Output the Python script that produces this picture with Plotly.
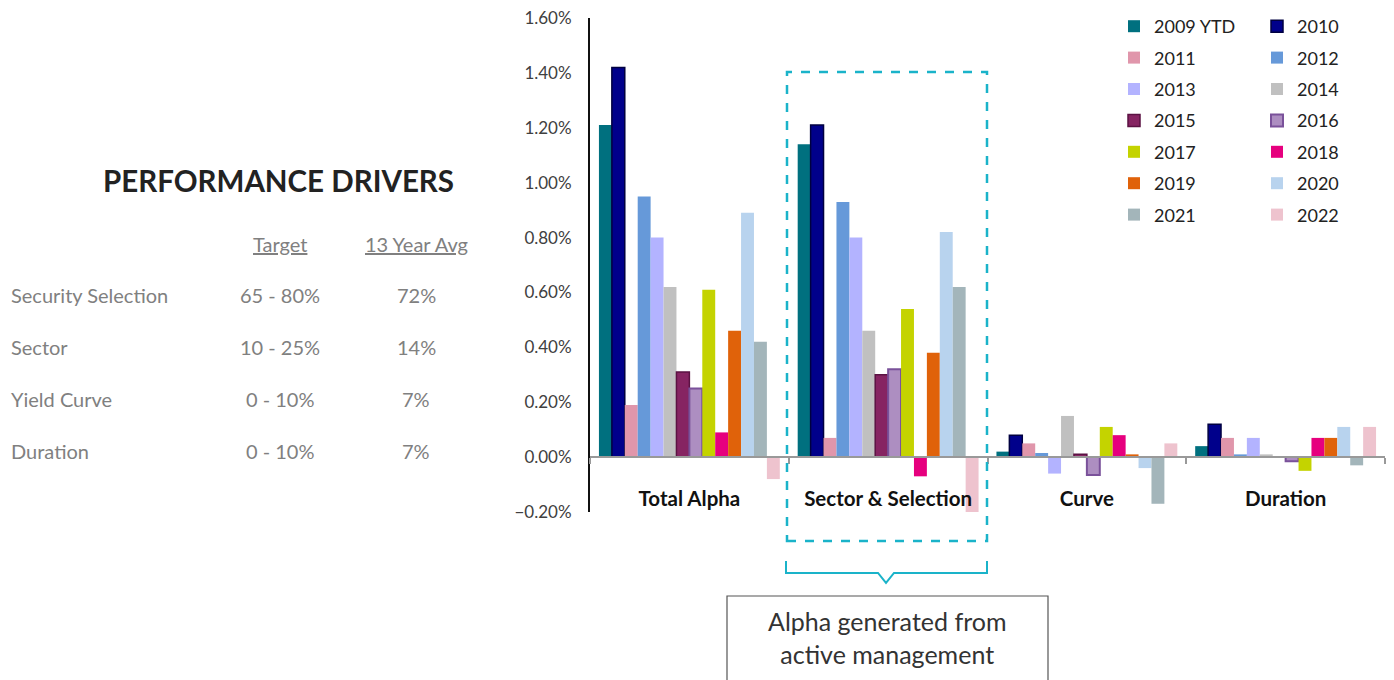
import plotly.graph_objects as go

categories = ["Total Alpha", "Sector & Selection", "Curve", "Duration"]

series_names = ["2009 YTD", "2010", "2011", "2012", "2013", "2014", "2015",
                "2016", "2017", "2018", "2019", "2020", "2021", "2022"]

v2009 = [1.21, 1.14, 0.02, 0.04]
v2010 = [1.42, 1.21, 0.08, 0.12]
v2011 = [0.19, 0.07, 0.05, 0.07]
v2012 = [0.95, 0.93, 0.015, 0.01]
v2013 = [0.80, 0.80, -0.06, 0.07]
v2014 = [0.62, 0.46, 0.15, 0.01]
v2015 = [0.31, 0.30, 0.01, 0.0]
v2016 = [0.25, 0.32, -0.065, -0.015]
v2017 = [0.61, 0.54, 0.11, -0.05]
v2018 = [0.09, -0.07, 0.08, 0.07]
v2019 = [0.46, 0.38, 0.01, 0.07]
v2020 = [0.89, 0.82, -0.04, 0.11]
v2021 = [0.42, 0.62, -0.17, -0.03]
v2022 = [-0.08, -0.20, 0.05, 0.11]

series_values = [v2009, v2010, v2011, v2012, v2013, v2014, v2015,
                 v2016, v2017, v2018, v2019, v2020, v2021, v2022]

colors = ["#00707F", "#00008B", "#E096AB", "#6699D9", "#B3B3FF", "#C0C0C0", "#862462",
          "#AD8EC1", "#C4D300", "#E6007E", "#E0620A", "#B8D3EE", "#A3B5BA", "#EEC3CE"]
line_colors = [None, "#000040", None, None, None, None, "#5B1243",
               "#7A519A", None, None, None, None, None, None]
line_widths = [0, 1.5, 0, 0, 0, 0, 1.5, 2, 0, 0, 0, 0, 0, 0]

drivers = ["Security Selection", "Sector", "Yield Curve", "Duration"]
targets = ["65 - 80%", "10 - 25%", "0 - 10%", "0 - 10%"]
avgs = ["72%", "14%", "7%", "7%"]

FONT = "Lato"
OFF = 8  # page body margin
W, H = 1394 - OFF, 680 - OFF
ML, MT = 590 - OFF, 18 - OFF
MR = W - (1385 - OFF)
MB = H - (512 - OFF)
PW, PH = W - ML - MR, H - MT - MB


def px(x):
    return (x - OFF - ML) / PW


def py(y):
    return (H - MB - (y - OFF)) / PH


fig = go.Figure()
for i, (name, vals) in enumerate(zip(series_names, series_values)):
    fig.add_trace(go.Bar(
        x=categories, y=vals, name=name,
        marker=dict(color=colors[i],
                    line=dict(color=line_colors[i] or colors[i], width=line_widths[i])),
        legend="legend" if i % 2 == 0 else "legend2",
        legendgroup=name,
    ))

ymin, ymax = -0.2, 1.6
zero_pos = (0 - ymin) / (ymax - ymin)

annotations = []
annotations.append(dict(text="<b>PERFORMANCE DRIVERS</b>", x=px(278), y=py(181), xref="paper", yref="paper",
                        showarrow=False, xanchor="center", yanchor="middle",
                        font=dict(family=FONT, size=29.5, color="#222222")))
TBL = dict(family=FONT, size=20, color="#808080")
annotations.append(dict(text="<u>Target</u>", x=px(280), y=py(244), xref="paper", yref="paper",
                        showarrow=False, xanchor="center", yanchor="middle", font=TBL))
annotations.append(dict(text="<u>13 Year Avg</u>", x=px(416), y=py(244), xref="paper", yref="paper",
                        showarrow=False, xanchor="center", yanchor="middle", font=TBL))
row_y = [295, 347, 399, 451]
for d, t, a, ry in zip(drivers, targets, avgs, row_y):
    annotations.append(dict(text=d, x=px(9), y=py(ry), xref="paper", yref="paper",
                            showarrow=False, xanchor="left", yanchor="middle", font=TBL))
    annotations.append(dict(text=t, x=px(280), y=py(ry), xref="paper", yref="paper",
                            showarrow=False, xanchor="center", yanchor="middle", font=TBL))
    annotations.append(dict(text=a, x=px(416), y=py(ry), xref="paper", yref="paper",
                            showarrow=False, xanchor="center", yanchor="middle", font=TBL))
annotations.append(dict(text="Alpha generated from<br>active management", x=px(887), y=py(637),
                        xref="paper", yref="paper", showarrow=False, xanchor="center", yanchor="middle",
                        font=dict(family=FONT, size=25, color="#333333")))

shapes = []
CY = "#1AB3C9"
shapes.append(dict(type="rect", xref="paper", yref="paper", x0=px(787), x1=px(987), y0=py(541), y1=py(72),
                   line=dict(color=CY, width=2.5, dash="dash"), fillcolor="rgba(0,0,0,0)"))
pts = [(786, 561), (786, 573), (878, 573), (886, 583), (894, 573), (987, 573), (987, 561)]
path = "M " + " L ".join(f"{px(a):.5f},{py(b):.5f}" for a, b in pts)
shapes.append(dict(type="path", xref="paper", yref="paper", path=path, line=dict(color=CY, width=2)))
shapes.append(dict(type="rect", xref="paper", yref="paper", x0=px(727), x1=px(1048), y0=py(700), y1=py(596),
                   line=dict(color="#555555", width=1.2), fillcolor="rgba(0,0,0,0)"))

LEG_FONT = dict(family=FONT, size=18, color="#222222")
fig.update_layout(
    width=W, height=H,
    margin=dict(l=ML, r=MR, t=MT, b=MB, autoexpand=False),
    paper_bgcolor="white", plot_bgcolor="white",
    barmode="group", bargap=0.09, bargroupgap=0,
    font=dict(family=FONT, color="#333333"),
    xaxis=dict(
        anchor="free", position=zero_pos,
        showline=True, linecolor="#999999", linewidth=2,
        ticks="outside", tickson="boundaries", ticklen=6, tickcolor="#999999", tickwidth=2,
        ticklabelstandoff=23,
        tickfont=dict(family=FONT, size=20.5, color="#111111", weight="bold"),
        showgrid=False, zeroline=False,
    ),
    yaxis=dict(
        range=[ymin, ymax], dtick=0.2, tickformat=".2f", ticksuffix="%",
        showline=True, linecolor="#111111", linewidth=2,
        showgrid=False, zeroline=False, ticks="", ticklabelstandoff=13,
        ticklabeloverflow="allow",
        tickfont=dict(family=FONT, size=17, color="#404040"),
    ),
    legend=dict(x=px(1114), y=py(8), xanchor="left", yanchor="top", orientation="v",
                traceorder="grouped", tracegroupgap=5, bgcolor="rgba(0,0,0,0)", font=LEG_FONT),
    legend2=dict(x=px(1257), y=py(8), xanchor="left", yanchor="top", orientation="v",
                 traceorder="grouped", tracegroupgap=5, bgcolor="rgba(0,0,0,0)", font=LEG_FONT),
    annotations=annotations,
    shapes=shapes,
)

fig.write_html("out.html")
